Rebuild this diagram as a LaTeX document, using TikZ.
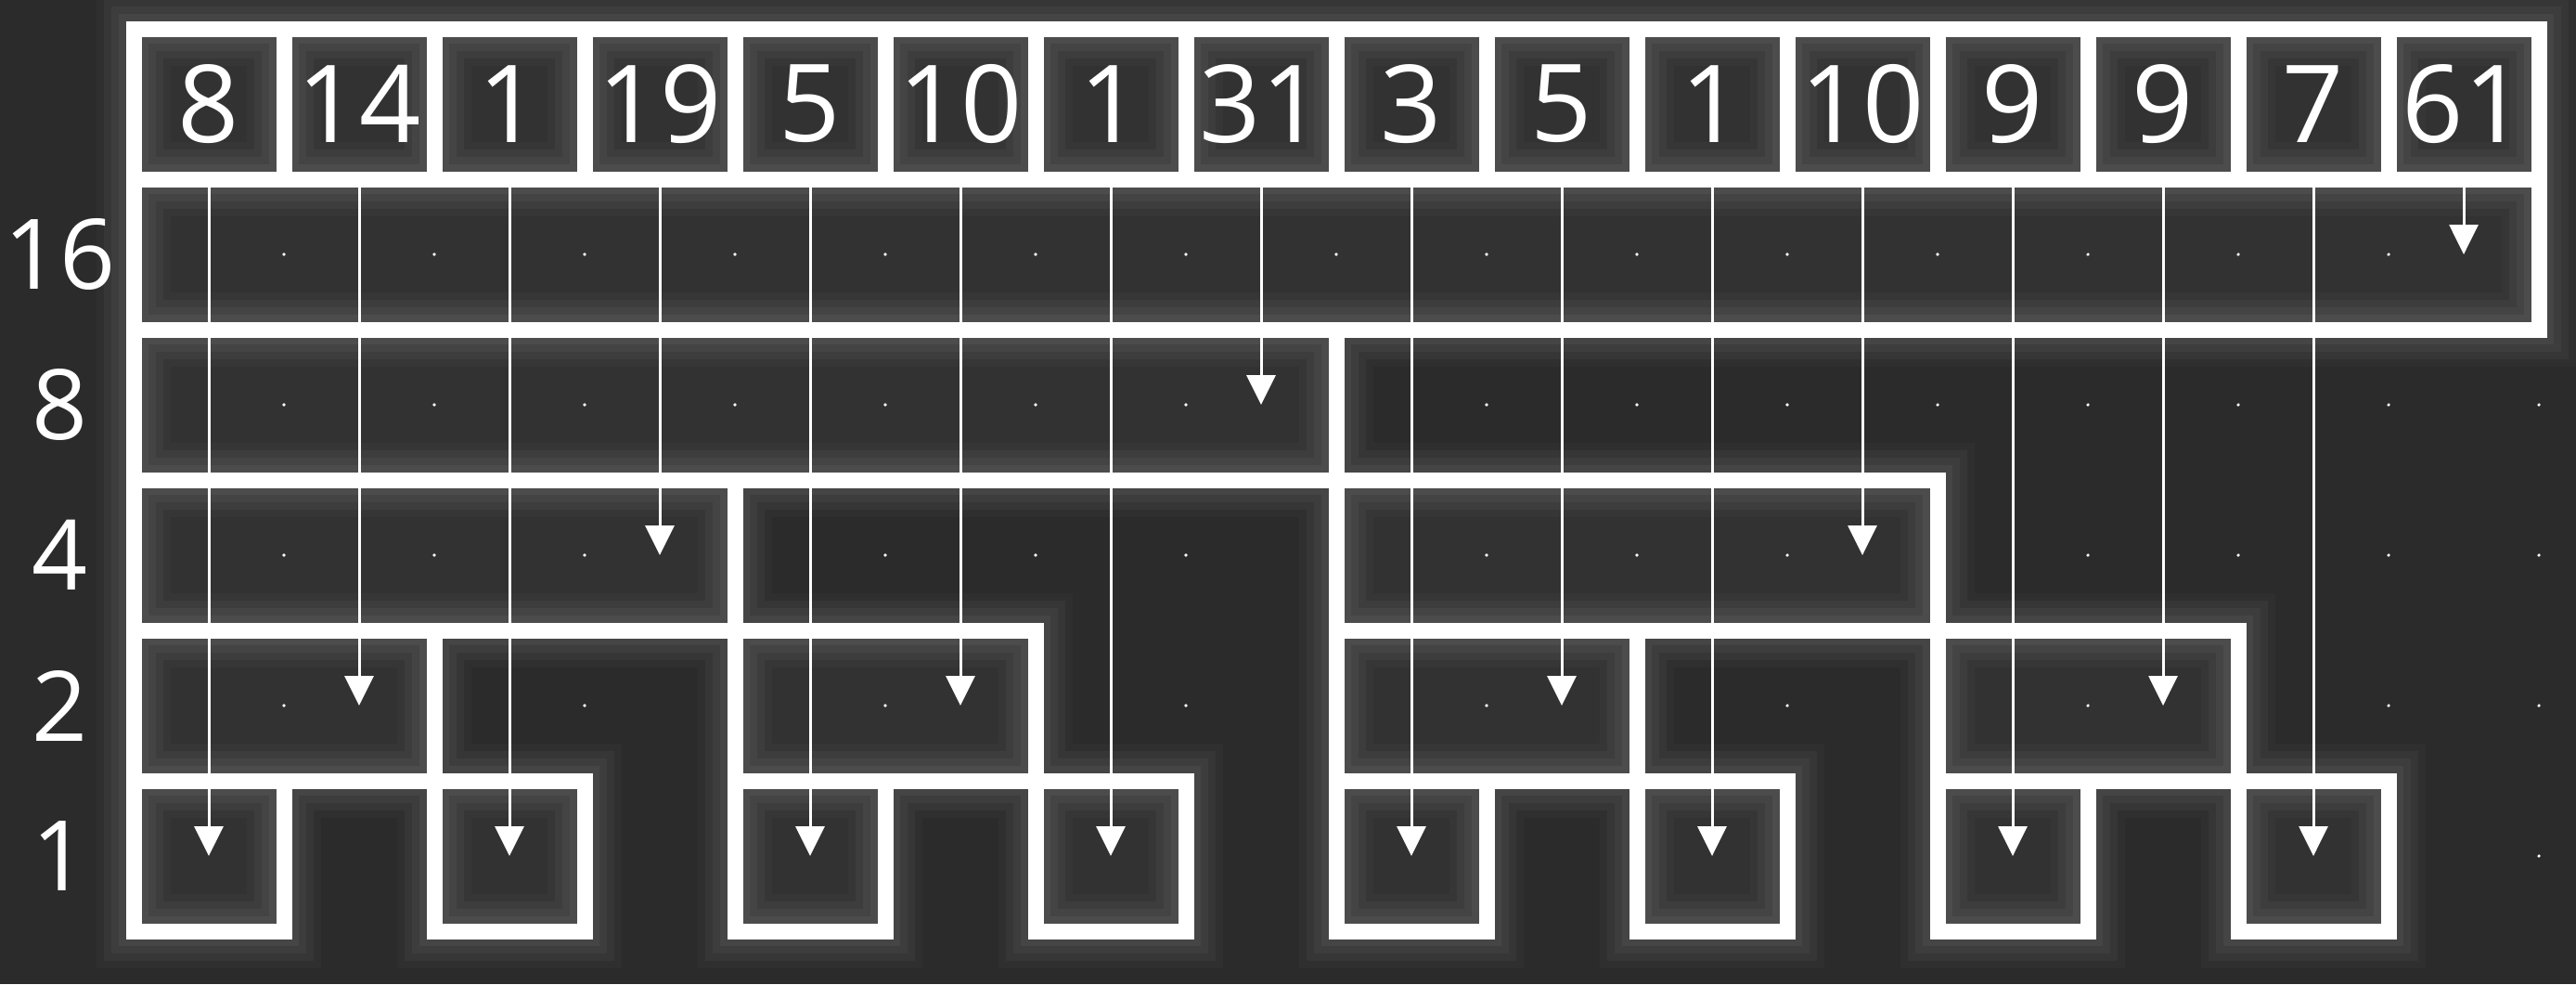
\documentclass[tikz,border=0pt]{standalone}
\usepackage{fontspec}
\setmainfont{Open Sans}
\usetikzlibrary{arrows.meta}
\usepackage{xcolor}
\definecolor{bgColor}{HTML}{2b2b2b}
\definecolor{cellColor}{HTML}{323232}
\definecolor{fgColor}{HTML}{ffffff}

% column / value / left edge / row of its box
\newcommand{\fwTree}{1/8/0/5, 2/14/0/4, 3/1/2/5, 4/19/0/3, 5/5/4/5, 6/10/4/4, 7/1/6/5, 8/31/0/2,
  9/3/8/5, 10/5/8/4, 11/1/10/5, 12/10/8/3, 13/9/12/5, 14/9/12/4, 15/7/14/5, 16/61/0/1}

\tikzset{
  cell/.style={fill=cellColor, inner sep=0pt, outer sep=0pt, minimum height=81pt},
  glow/.style={draw=fgColor, draw opacity=#1},
  border/.style={draw=fgColor, line width=8.5pt},
  link/.style={draw=fgColor, line width=1.5pt, -{Triangle[length=16pt,width=15.5pt]}},
  value/.style={text=fgColor, font=\fontsize{58}{60}\selectfont},
  level/.style={text=fgColor, font=\fontsize{52.5}{54}\selectfont},
}

\begin{document}
\begin{tikzpicture}[x=81pt,y=-81pt]
		\path[use as bounding box, fill=bgColor] (-0.8889,-0.1914) rectangle (16.2469,6.3519);

		% Cells
		\foreach \i/\val/\lo/\r in \fwTree {
			\pgfmathsetmacro\w{(\i-\lo)*81}
			\node[cell, value, minimum width=81pt] (v\i) at ({\i-0.5}, 0.5) {\val};
			\node[cell, minimum width=\w pt] (b\i) at ({(\lo+\i)/2}, {\r+0.5}) {};
		}

		% Glow (one path per layer)
		\foreach \gw/\go in {40pt/0.02, 32pt/0.035, 24pt/0.04, 16pt/0.045} {
			\path[glow=\go, line width=\gw] \foreach \i/\val/\lo/\r in \fwTree {
				(v\i.south west) rectangle (v\i.north east)
				(b\i.south west) rectangle (b\i.north east)
			};
		}

		% Dots
		\foreach \j in {1,...,16} \foreach \r in {1,...,5} \fill[fgColor] (\j, {\r+0.5}) circle (0.9pt);

		% Arrows
		\foreach \i/\val/\lo/\r in \fwTree \draw[link] (v\i.south) -- (v\i |- b\i.center);

		% Borders
		\foreach \i/\val/\lo/\r in \fwTree {
			\draw[border] (v\i.south west) rectangle (v\i.north east);
			\draw[border] (b\i.south west) rectangle (b\i.north east);
		}

		% Level Labels
		\node[level] (lvl16) at (-0.49, 1.5) {16};
		\node[level] (lvl8)  at (-0.49, 2.5) {8};
		\node[level] (lvl4)  at (-0.49, 3.5) {4};
		\node[level] (lvl2)  at (-0.49, 4.5) {2};
		\node[level] (lvl1)  at (-0.49, 5.5) {1};
	\end{tikzpicture}
\end{document}
